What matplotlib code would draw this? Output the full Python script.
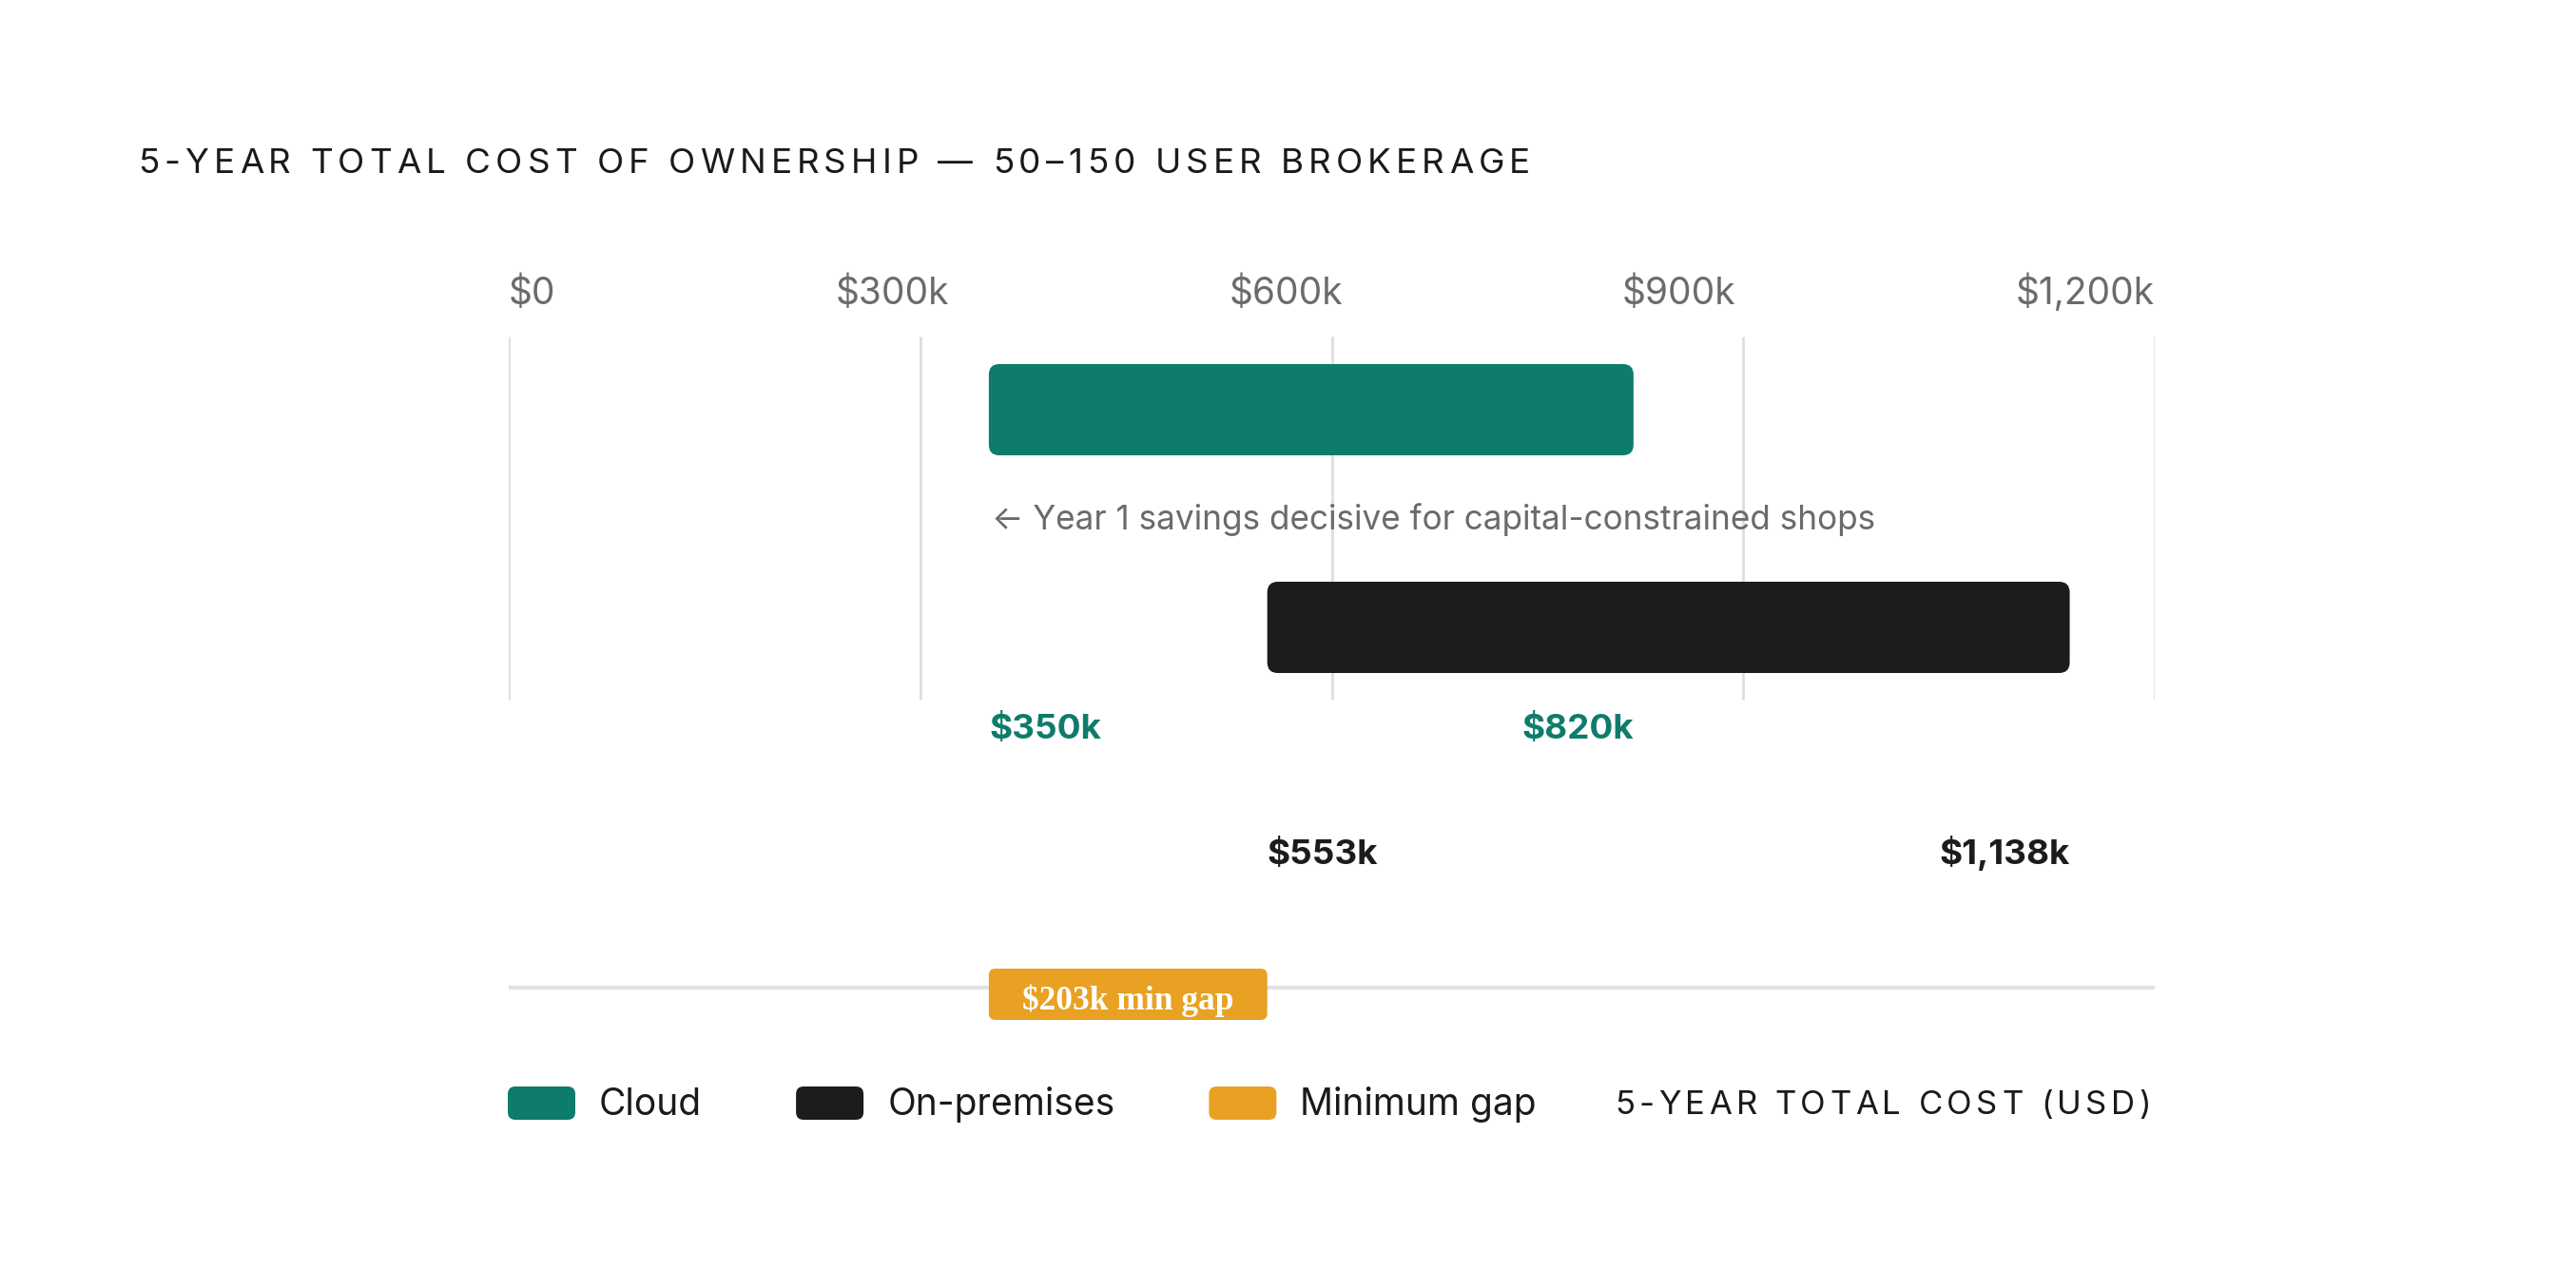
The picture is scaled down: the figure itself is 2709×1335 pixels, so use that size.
import matplotlib
matplotlib.use("Agg")
import matplotlib.pyplot as plt
from matplotlib.patches import FancyBboxPatch
from matplotlib.font_manager import FontProperties

# ---------------- data ----------------
title = "5-YEAR TOTAL COST OF OWNERSHIP \u2014 50\u2013150 USER BROKERAGE"
tick_values = [0, 300, 600, 900, 1200]
tick_labels = ["$0", "$300k", "$600k", "$900k", "$1,200k"]
series_names = ["Cloud", "On-premises"]
range_low = [350, 553]
range_high = [820, 1138]
low_labels = ["$350k", "$553k"]
high_labels = ["$820k", "$1,138k"]
gap_value = 203
gap_label = "$203k min gap"
annotation = "\u2190 Year 1 savings decisive for capital-constrained shops"
legend_labels = ["Cloud", "On-premises", "Minimum gap"]
axis_title = "5-YEAR TOTAL COST (USD)"

# ---------------- style ----------------
TEAL = "#0e7c6b"
BLACK = "#1c1c1c"
ORANGE = "#e8a123"
GRID = "#dedede"
GRAY = "#6b6b6b"
SANS = ["Inter", "DejaVu Sans"]
SERIF = ["Liberation Serif", "DejaVu Serif"]

W, H = 2709, 1335
DPI = 100
fig = plt.figure(figsize=(W / DPI, H / DPI), dpi=DPI)
fig.patch.set_facecolor("white")

# layout axes in pixel coordinates
lay = fig.add_axes([0, 0, 1, 1])
lay.set_xlim(0, W)
lay.set_ylim(H, 0)
lay.axis("off")

# data axes: x is the value scale, y is in pixel rows
X0, X1 = 535, 2266
ax = fig.add_axes([X0 / W, 0, (X1 - X0) / W, 1])
ax.set_xlim(0, 1200)
ax.set_ylim(H, 0)
ax.axis("off")
ax.patch.set_alpha(0)
xu = 1200 / (X1 - X0)  # data units per pixel

renderer = fig.canvas.get_renderer()


def text_w(s, size, weight="normal", family=SANS):
    fp = FontProperties(family=family, size=size, weight=weight)
    w, h, d = renderer.get_text_width_height_descent(s, fp, ismath=False)
    return w


def spaced_text(s, x0, y, size, color, target_width, weight="normal", align="left"):
    widths = [text_w(c, size, weight) for c in s]
    natural = sum(widths)
    sp = (target_width - natural) / (len(s) - 1)
    x = x0 if align == "left" else x0 - target_width
    for c, w in zip(s, widths):
        lay.text(x, y, c, fontsize=size, color=color, family=SANS, weight=weight,
                 ha="left", va="baseline")
        x += w + sp


# title
spaced_text(title, 145, 182, 26.5, "#1a1a1a", 1609 - 145)

# tick labels: flex space-between across the axis width
tsize = 28
tw = [text_w(t, tsize) for t in tick_labels]
gap = ((X1 - X0) - sum(tw)) / (len(tick_labels) - 1)
x = X0
for t, w in zip(tick_labels, tw):
    lay.text(x, 320, t, fontsize=tsize, color=GRAY, family=SANS, ha="left", va="baseline")
    x += w + gap

# gridlines
ax.vlines(tick_values, 354, 736, color=GRID, linewidth=2, zorder=0)

# range bars
bar_top = [383, 612]
bar_h = [96, 96]
colors = [TEAL, BLACK]
r = 11
for lo, hi, t, h, c in zip(range_low, range_high, bar_top, bar_h, colors):
    p = FancyBboxPatch((lo, t), hi - lo, h,
                       boxstyle=f"round,pad=0,rounding_size={r * xu}",
                       mutation_aspect=1 / xu, facecolor=c, edgecolor="none", zorder=2)
    ax.add_patch(p)

# value labels
vsize = 26.5
val_base = [777, 909]
for lo, hi, ll, hl, c, yb in zip(range_low, range_high, low_labels, high_labels, colors, val_base):
    ax.text(lo, yb, ll, fontsize=vsize, weight="bold", color=c, family=SANS,
            ha="left", va="baseline")
    ax.text(hi, yb, hl, fontsize=vsize, weight="bold", color=c, family=SANS,
            ha="right", va="baseline")

# annotation
ax.text(range_low[0] + 3 * xu, 557, annotation, fontsize=25.3, color=GRAY, family=SANS,
        ha="left", va="baseline")

# gap baseline and badge
ax.hlines(1039, 0, 1200, color="#e2e2e2", linewidth=3, zorder=1)
g0 = range_low[0]
g1 = range_low[0] + gap_value
badge = FancyBboxPatch((g0, 1019), g1 - g0, 54,
                       boxstyle=f"round,pad=0,rounding_size={7 * xu}",
                       mutation_aspect=1 / xu, facecolor=ORANGE, edgecolor="none", zorder=3)
ax.add_patch(badge)
ax.text((g0 + g1) / 2, 1062, gap_label, fontsize=25.5, weight="bold", color="white",
        family=SERIF, ha="center", va="baseline", zorder=4)

# legend
lsize = 28
sw_w, sw_h = 71, 35
x = 534
for lab, c in zip(legend_labels, [TEAL, BLACK, ORANGE]):
    sw = FancyBboxPatch((x, 1143), sw_w, sw_h,
                        boxstyle="round,pad=0,rounding_size=8",
                        facecolor=c, edgecolor="none")
    lay.add_patch(sw)
    tx = x + sw_w + 25
    lay.text(tx, 1173, lab, fontsize=lsize, color="#1a1a1a", family=SANS,
             ha="left", va="baseline")
    x = tx + text_w(lab, lsize) + 99

spaced_text(axis_title, 2262, 1172, 25, "#1a1a1a", 2262 - 1698, align="right")

fig.savefig("out.png", dpi=DPI, facecolor="white")
